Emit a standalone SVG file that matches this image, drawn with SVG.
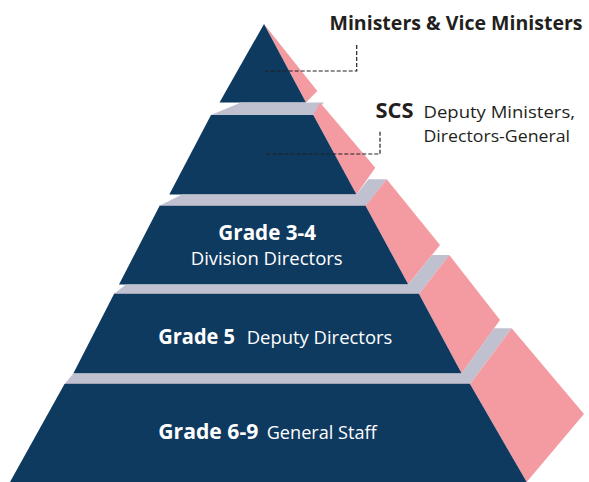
<svg xmlns="http://www.w3.org/2000/svg" width="589" height="482" viewBox="0 0 589 482">
<style>
.navy{fill:#0f3a5f}
.pink{fill:#f49ba2}
.gray{fill:#bfc1d0}
.edge{stroke:#9fa2b6;stroke-width:1}
.b{font-family:"Open Sans","Noto Sans","Liberation Sans",sans-serif;font-weight:700;font-size:21px}
.r{font-family:"Open Sans","Noto Sans","Liberation Sans",sans-serif;font-weight:400;font-size:18.5px}
.s{font-size:17px}
.t{font-size:20px}
.dk{fill:#231f20}
.wt{fill:#ffffff}
.dash{fill:none;stroke:#231f20;stroke-width:1.2;stroke-dasharray:4 2}
</style>
<rect width="589" height="482" fill="#ffffff"/>
<g id="tier1">
<polygon class="pink" points="264,24 317.3,91 306,102.5"/>
<polygon class="navy" points="264,24 306,102.5 219.5,102.5"/>
<text class="b t dk" x="329.5" y="30" textLength="253" lengthAdjust="spacingAndGlyphs">Ministers &amp; Vice Ministers</text>
</g>
<g id="tier2">
<polygon class="gray" points="241,102.5 324,102.5 313.3,115 211,115"/>
<polygon class="pink" points="320,102.5 375.3,167.7 356.5,194.5 313.3,115"/>
<polygon class="navy" points="211,115 313.3,115 356.5,194.5 169.3,194.5"/>
<text class="b dk" x="375.5" y="117.5" textLength="38" lengthAdjust="spacingAndGlyphs">SCS</text>
<text class="r s dk" x="423.5" y="117.5" textLength="151.5" lengthAdjust="spacingAndGlyphs">Deputy Ministers,</text>
<text class="r s dk" x="423.5" y="141.5" textLength="146.5" lengthAdjust="spacingAndGlyphs">Directors-General</text>
</g>
<g id="tier3">
<polygon class="gray" points="182,194.5 356.5,194.5 368.5,179.3 386.7,179.3 366.2,206 159,206"/>
<line class="edge" x1="159.5" y1="205.5" x2="366" y2="205.5"/>
<polygon class="pink" points="386.7,179.3 440,245 408.3,284.5 365.7,206"/>
<polygon class="navy" points="159.5,206 365.7,206 408.3,284.5 119,284.5"/>
<text class="b wt" x="218.3" y="240" textLength="97.7" lengthAdjust="spacingAndGlyphs">Grade 3-4</text>
<text class="r wt" x="190.7" y="265" textLength="152" lengthAdjust="spacingAndGlyphs">Division Directors</text>
</g>
<g id="tier4">
<polygon class="gray" points="126,284.5 408.3,284.5 432,255 449.3,255 419,294 113.5,294"/>
<line class="edge" x1="114" y1="293.5" x2="419" y2="293.5"/>
<polygon class="pink" points="449.3,255 500,320 461.7,373.5 419,294"/>
<polygon class="navy" points="114,294 419,294 461.7,373.5 73.3,373.5"/>
<text class="b wt" x="158.3" y="344" textLength="76.7" lengthAdjust="spacingAndGlyphs">Grade 5</text>
<text class="r wt" x="246.7" y="344" textLength="145.6" lengthAdjust="spacingAndGlyphs">Deputy Directors</text>
</g>
<g id="tier5">
<polygon class="gray" points="73.3,373.5 461.7,373.5 494,328.3 511.7,328.3 470,384 64.5,384"/>
<line class="edge" x1="65" y1="383.5" x2="470" y2="383.5"/>
<polygon class="pink" points="511.7,328.3 584,414 526.7,482 470,384"/>
<polygon class="navy" points="64.5,384 470,384 526.7,482 10,482"/>
<text class="b wt" x="158.3" y="439.3" textLength="100" lengthAdjust="spacingAndGlyphs">Grade 6-9</text>
<text class="r wt" x="266.7" y="439.3" textLength="110" lengthAdjust="spacingAndGlyphs">General Staff</text>
</g>
<g id="connectors">
<polyline class="dash" points="356.7,45 356.7,71 265,71"/>
<polyline class="dash" points="380,131.7 380,154 265,154"/>
</g>
</svg>
